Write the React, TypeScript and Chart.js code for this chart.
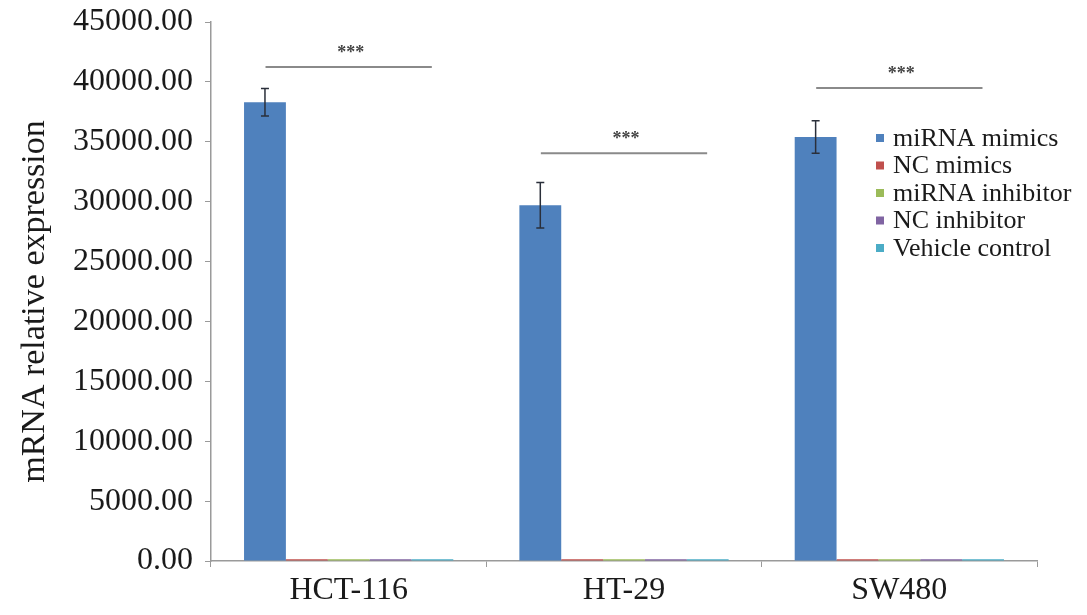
import React, { useEffect, useRef } from "react";
import { Chart, registerables } from "chart.js";

Chart.register(...registerables);

const categories = ["HCT-116", "HT-29", "SW480"];
const seriesNames = ["miRNA mimics", "NC mimics", "miRNA inhibitor", "NC inhibitor", "Vehicle control"];
const seriesColors = ["#4F81BD", "#C0504D", "#9BBB59", "#8064A2", "#4BACC6"];
const miRNAMimics = [38300, 29700, 35400];
const ncMimics = [150, 150, 150];
const miRNAInhibitor = [150, 150, 150];
const ncInhibitor = [150, 150, 150];
const vehicleControl = [150, 150, 150];
const mimicsError = [1150, 1900, 1350];
const sigLevels = [41250, 34050, 39500];
const sigLabels = ["***", "***", "***"];
const yTitle = "mRNA relative expression";
const yTicksMax = 45000;
const yStep = 5000;

const FONT = '"Liberation Serif", "Times New Roman", serif';

export default function App() {
  const ref = useRef<HTMLCanvasElement | null>(null);

  useEffect(() => {
    if (!ref.current) return;
    const values = [miRNAMimics, ncMimics, miRNAInhibitor, ncInhibitor, vehicleControl];

    const overlay = {
      id: "overlay",
      afterDatasetsDraw(chart: any) {
        const ctx = chart.ctx;
        const y = chart.scales.y;
        const x = chart.scales.x;
        // error bars
        const meta = chart.getDatasetMeta(0);
        ctx.save();
        ctx.strokeStyle = "#2a2f3a";
        ctx.lineWidth = 1.5;
        meta.data.forEach((bar: any, i: number) => {
          const cx = bar.x;
          const top = y.getPixelForValue(miRNAMimics[i] + mimicsError[i]);
          const bot = y.getPixelForValue(miRNAMimics[i] - mimicsError[i]);
          ctx.beginPath();
          ctx.moveTo(cx, top);
          ctx.lineTo(cx, bot);
          ctx.moveTo(cx - 4, top);
          ctx.lineTo(cx + 4, top);
          ctx.moveTo(cx - 4, bot);
          ctx.lineTo(cx + 4, bot);
          ctx.stroke();
        });
        // significance lines
        const catW = (x.right - x.left) / categories.length;
        categories.forEach((_, i) => {
          const c = x.getPixelForValue(i);
          const ly = y.getPixelForValue(sigLevels[i]);
          ctx.strokeStyle = "#8a8a8a";
          ctx.lineWidth = 2;
          ctx.beginPath();
          ctx.moveTo(c - catW * 0.302, ly);
          ctx.lineTo(c + catW * 0.302, ly);
          ctx.stroke();
          ctx.fillStyle = "#444";
          ctx.font = `bold 18px ${FONT}`;
          ctx.textAlign = "center";
          ctx.textBaseline = "middle";
          ctx.fillText(sigLabels[i], c + 2, ly - 14);
        });
        // legend
        const lx = 880;
        const ly0 = 138;
        const step = 27.5;
        ctx.font = `26px ${FONT}`;
        ctx.textAlign = "left";
        ctx.textBaseline = "middle";
        seriesNames.forEach((name, i) => {
          const yy = ly0 + i * step;
          ctx.fillStyle = seriesColors[i];
          ctx.fillRect(lx - 4, yy - 4, 8, 8);
          ctx.fillStyle = "#1a1a1a";
          ctx.fillText(name, lx + 13, yy + 1);
        });
        // y-axis title
        ctx.translate(35, (y.top + y.bottom) / 2 + 10);
        ctx.rotate(-Math.PI / 2);
        ctx.font = `34px ${FONT}`;
        ctx.textAlign = "center";
        ctx.textBaseline = "middle";
        ctx.fillStyle = "#1a1a1a";
        ctx.fillText(yTitle, 0, 0);
        ctx.restore();
      },
    };

    const chart = new Chart(ref.current, {
      type: "bar",
      data: {
        labels: categories,
        datasets: seriesNames.map((name, i) => ({
          label: name,
          data: values[i],
          backgroundColor: seriesColors[i],
          borderWidth: 0,
          categoryPercentage: 0.76,
          barPercentage: 1,
        })),
      },
      options: {
        responsive: false,
        animation: false,
        layout: { padding: { top: 22, right: 50, left: 0, bottom: 0 } },
        plugins: {
          legend: { display: false },
          tooltip: { enabled: false },
        },
        scales: {
          x: {
            offset: true,
            grid: {
              display: true,
              offset: true,
              drawOnChartArea: false,
              drawTicks: true,
              tickLength: 6,
              color: "#9a9a9a",
            },
            border: { display: true, color: "#9a9a9a", width: 1.5 },
            ticks: {
              color: "#1a1a1a",
              font: { family: FONT, size: 32 },
              padding: 4,
            },
            afterFit(scale: any) {
              scale.height = 54;
              scale.paddingLeft = 0;
              scale.paddingRight = 0;
            },
          },
          y: {
            min: 0,
            max: yTicksMax,
            grid: {
              display: true,
              drawOnChartArea: false,
              drawTicks: true,
              tickLength: 6,
              color: "#9a9a9a",
            },
            border: { display: true, color: "#9a9a9a", width: 1.5 },
            ticks: {
              stepSize: yStep,
              color: "#1a1a1a",
              font: { family: FONT, size: 32 },
              padding: 12,
              callback: (v: any) => Number(v).toFixed(2),
            },
            title: { display: false },
            afterFit(scale: any) {
              scale.width = 211;
              scale.paddingTop = 0;
              scale.paddingBottom = 0;
            },
          },
        },
      },
      plugins: [overlay],
    });
    return () => chart.destroy();
  }, []);

  return (
    <canvas
      ref={ref}
      width={1087}
      height={615}
      style={{ position: "absolute", left: 0, top: 0, display: "block", background: "#fff" }}
    />
  );
}
